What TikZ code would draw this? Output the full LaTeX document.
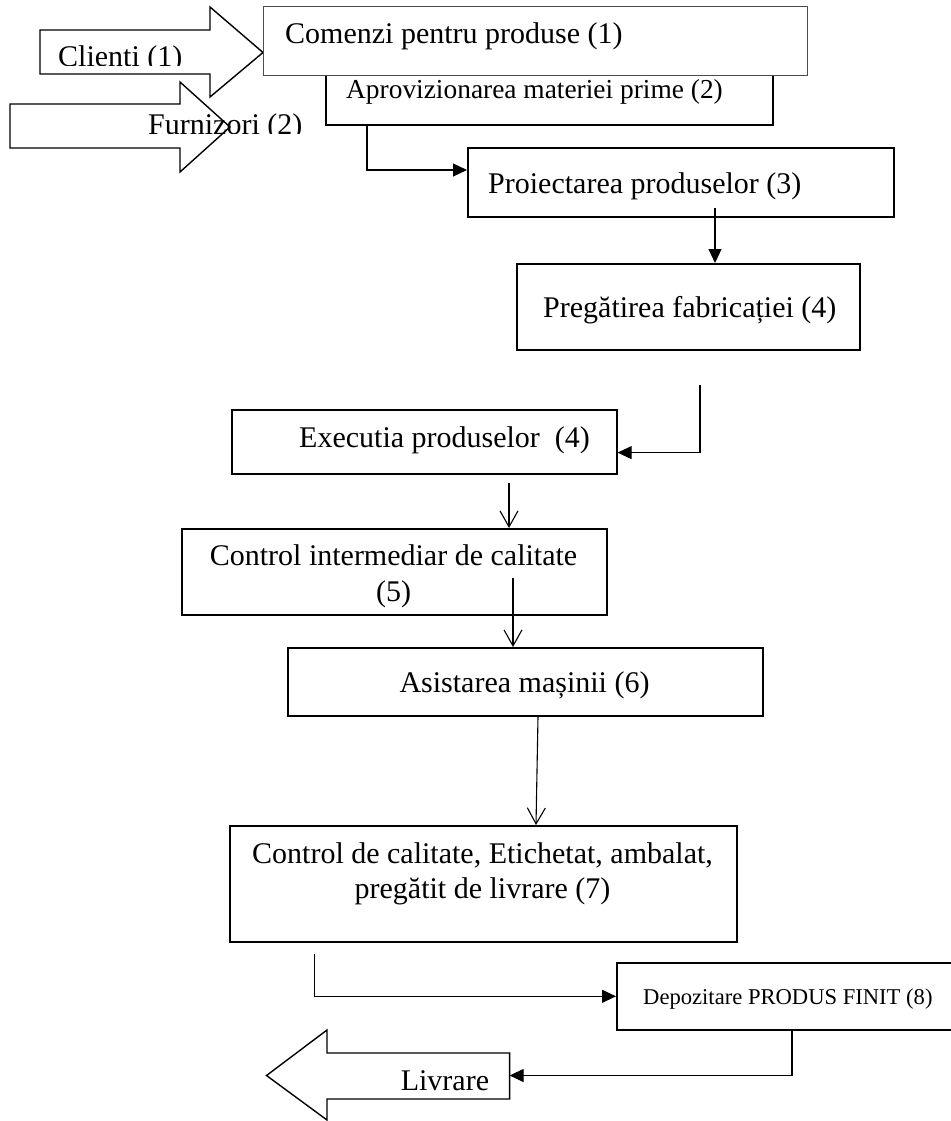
\documentclass[tikz,border=0pt]{standalone}
\usepackage{fontspec}
\setmainfont{Liberation Serif}
\usetikzlibrary{positioning,calc,arrows.meta}

\tikzset{
  procbox/.style={draw, line width=1.6pt, fill=white, inner sep=0pt, anchor=north west},
  bigarrow/.style={draw, line width=1.4pt, line join=miter, fill=white},
  txt/.style={inner sep=0pt, font=\fontsize{30}{36}\selectfont},
  solidarrow/.style={line width=1.1pt, -{Triangle[length=14pt,width=13pt]}},
  openarrow/.style={line width=1.1pt, -{Straight Barb[length=16pt,width=18pt]}}
}

\begin{document}
\begin{tikzpicture}[x=1pt,y=-1pt]
    \useasboundingbox (0,0) rectangle (950,1121);
    % inputs: clients and suppliers
    \draw[bigarrow] (40,30) -- (210,30) -- (210,7) -- (263,52.5) -- (210,97) -- (210,74) -- (40,74) -- cycle;
    \draw[bigarrow] (10,104) -- (180,104) -- (180,82) -- (230,127) -- (180,172) -- (180,148) -- (10,148) -- cycle;
    \begin{scope}
      \clip (40,0) rectangle (320,66);
      \node[txt, anchor=base west] (clienti) at (58,66.5) {Clienti (1)};
    \end{scope}
    \begin{scope}
      \clip (140,100) rectangle (320,133.5);
      \node[txt, anchor=base west] (furnizori) at (148,135) {Furnizori (2)};
    \end{scope}
    % process boxes
    \node[procbox, minimum width=447pt, minimum height=64pt] (aprov) at (325,60) {};
    \node[procbox, draw=black!70, line width=1.3pt, minimum width=544pt, minimum height=69pt] (comenzi) at (263,6) {};
    \node[procbox, minimum width=426pt, minimum height=69pt] (proiect) at (467,147) {};
    \node[procbox, minimum width=343pt, minimum height=86pt] (pregat) at (516,263) {};
    \node[procbox, minimum width=385pt, minimum height=64pt] (exec) at (231,409) {};
    \node[procbox, minimum width=425pt, minimum height=86pt] (ctrlint) at (181,528) {};
    \node[procbox, minimum width=475pt, minimum height=68pt] (asist) at (287,647) {};
    \node[procbox, minimum width=507pt, minimum height=116pt] (ctrlfin) at (229,825) {};
    \node[procbox, minimum width=339pt, minimum height=67pt] (depoz) at (616,962) {};
    % texts of the boxes
    \node[txt, anchor=base west] (comenzitxt) at (285,44) {Comenzi pentru produse (1)};
    \node[txt, anchor=base west, font=\fontsize{27.4}{33}\selectfont] (aprovtxt) at (346,99) {Aprovizionarea materiei prime (2)};
    \node[txt, anchor=base west] (proiecttxt) at (488,193) {Proiectarea produselor (3)};
    \node[txt, anchor=base west] (pregattxt) at (543,317) {Pregătirea fabricației (4)};
    \node[txt, anchor=base west] (exectxt) at (299,447) {Executia produselor\ \ (4)};
    \node[txt, anchor=base] (ctrlinttxt) at (393.5,565) {Control intermediar de calitate};
    \node[txt, anchor=base] (ctrlintnr) at (393.5,601) {(5)};
    \node[txt, anchor=base] (asisttxt) at (524.5,692) {Asistarea mașinii (6)};
    \node[txt, anchor=base] (ctrlfintxt) at (482.5,863) {Control de calitate, Etichetat, ambalat,};
    \node[txt, anchor=base] (ctrlfinnr) at (482.5,898) {pregătit de livrare (7)};
    \node[txt, anchor=base west, font=\fontsize{22.6}{27}\selectfont] (depoztxt) at (643,1004) {Depozitare PRODUS FINIT (8)};
    % output: delivery
    \draw[bigarrow] (509.6,1053) -- (327,1053) -- (327,1030) -- (266.5,1075.5) -- (327,1120) -- (327,1099) -- (509.6,1099) -- cycle;
    \coordinate (livrareend) at (509.6,1075.5);
    \node[txt, anchor=base west] (livrare) at (400.6,1090) {Livrare};
    % connectors
    \coordinate (aprovout) at ($(aprov.south west)+(42,0)$);
    \coordinate (proiectin) at ($(proiect.north west)+(0,23)$);
    \draw[solidarrow] (aprovout) |- (proiectin);
    \coordinate (proiectout) at ($(proiect.south west)+(248,-10)$);
    \draw[solidarrow] (proiectout) -- (proiectout |- pregat.north);
    \coordinate (pregatout) at ($(pregat.south west)+(184,34)$);
    \draw[solidarrow] (pregatout) |- ($(exec.south east)+(0,-22)$);
    \coordinate (execout) at ($(exec.south west)+(278,8)$);
    \draw[openarrow] (execout) -- (execout |- ctrlint.north);
    \coordinate (ctrlintout) at ($(ctrlint.north west)+(332,50)$);
    \draw[openarrow] (ctrlintout) -- (ctrlintout |- asist.north);
    \coordinate (asistout) at ($(asist.south west)+(251,0)$);
    \draw[openarrow] (asistout) -- ($(ctrlfin.north west)+(307,0)$);
    \coordinate (ctrlfinout) at ($(ctrlfin.south west)+(85.5,11)$);
    \draw[solidarrow] (ctrlfinout) |- (depoz.west);
    \coordinate (depozout) at ($(depoz.south west)+(176,0)$);
    \draw[solidarrow] (depozout) |- (livrareend);
\end{tikzpicture}
\end{document}
